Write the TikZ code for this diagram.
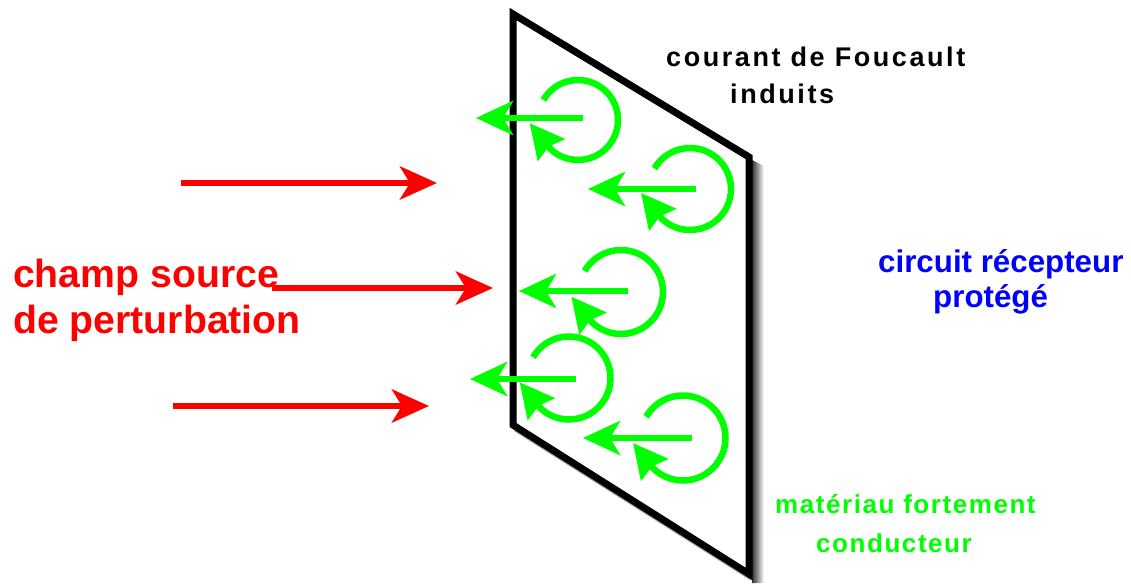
\documentclass[tikz,border=0pt]{standalone}
\usepackage{fontspec}
\setmainfont{Liberation Sans}
\newfontfamily\spacedfont{Liberation Sans}[LetterSpace=9.5]
\newfontfamily\widefont{Liberation Sans}[LetterSpace=6]
\usetikzlibrary{arrows.meta}
\definecolor{fieldred}{RGB}{255,0,0}
\definecolor{eddygreen}{RGB}{0,255,0}
\definecolor{circuitblue}{RGB}{0,0,255}
\tikzset{
  field/.style={fieldred, line width=6.5pt, -{Stealth[length=37pt,width=33pt,inset=10pt]}},
  eddy/.style={eddygreen, line width=6.5pt, -{Stealth[length=37pt,width=34pt,inset=10pt]}},
  loopcurrent/.style={eddygreen, line width=6.5pt, -{Stealth[length=34pt,width=34pt,inset=4pt]}},
  plate/.style={line width=7pt, line join=miter},
  textlabel/.style={inner sep=0pt, anchor=base west, align=left},
}
\begin{document}
\begin{tikzpicture}[x=1pt,y=-1pt]
\useasboundingbox (0,0) rectangle (1131,583);
% plate and its shadow
\shade[left color=black!80, right color=white] (752,160) -- (764,166) -- (764,583) -- (752,583) -- cycle;
\draw[black!35, line width=3pt] (515,430) -- (751,579);
\draw[plate, fill=white] (513,14) -- (749,157) -- (749,574) -- (513,425) -- cycle;
%
\draw[loopcurrent] (578,120) ++(-150:40) arc[start angle=-150, end angle=133, radius=40] -- ++(-21,-26);
\draw[eddy] (583,118) -- (476,118);
%
\draw[loopcurrent] (690,189) ++(-150:41) arc[start angle=-150, end angle=133, radius=41] -- ++(-21,-26);
\draw[eddy] (696,189) -- (588,189);
%
\draw[loopcurrent] (621,292) ++(-150:42) arc[start angle=-150, end angle=133, radius=42] -- ++(-21,-26);
\draw[eddy] (628,291) -- (519,291);
%
\draw[loopcurrent] (569,378) ++(-150:41.5) arc[start angle=-150, end angle=133, radius=41.5] -- ++(-21,-26);
\draw[eddy] (576,379) -- (470,379);
%
\draw[loopcurrent] (683,438) ++(-150:42.5) arc[start angle=-150, end angle=133, radius=42.5] -- ++(-21,-26);
\draw[eddy] (692,438) -- (583,438);
%
\draw[field] (181,183) -- (437,183);
\draw[field] (272,288) -- (493,288);
\draw[field] (173,406) -- (429,406);
%
\node[textlabel, fieldred, font=\fontsize{39.2}{46}\selectfont\bfseries] (source) at (13,333) {champ source\\de perturbation};
\node[textlabel, font=\spacedfont\fontsize{27}{36}\selectfont\bfseries] (foucault) at (666,103) {courant de Foucault\\\hspace*{64pt}induits};
\node[textlabel, circuitblue, font=\fontsize{31.3}{35}\selectfont\bfseries] (circuit) at (878,307) {circuit récepteur\\\hspace*{55pt}protégé};
\node[textlabel, eddygreen, font=\widefont\fontsize{26}{39}\selectfont\bfseries] (material) at (775,552) {matériau fortement\\\hspace*{41pt}conducteur};
\end{tikzpicture}
\end{document}
